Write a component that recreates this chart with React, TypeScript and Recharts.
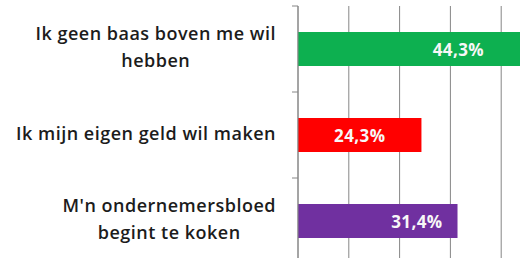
import { BarChart, Bar, XAxis, YAxis, CartesianGrid, Cell, LabelList } from "recharts";

const categories = ["Ik geen baas boven me wil hebben", "Ik mijn eigen geld wil maken", "M'n ondernemersbloed begint te koken"];
const tickLines = [["Ik geen baas boven me wil", "hebben"], ["Ik mijn eigen geld wil maken"], ["M'n ondernemersbloed", "begint te koken"]];
const values = [44.3, 24.3, 31.4];
const xTicks = [0, 10, 20, 30, 40, 50];

const COLORS = ["#0DB050", "#FF0000", "#7030A0"];
// label placement tweak per bar (distance from bar end), matches the original hand-placed labels
const LABEL_INSET = [39, 0, 15];

const data = categories.map((name, i) => ({ name, value: values[i] }));

const FONT = "'Open Sans', sans-serif";

function CategoryTick(props: any) {
  const { x, y, payload, index } = props;
  const half = payload?.offset ?? 43;
  const lines = tickLines[index] ?? [payload.value];
  return (
    <g>
      <line x1={x - 6} x2={x} y1={y - half} y2={y - half} stroke="#868686" />
      <foreignObject x={x - 322} y={y - 42} width={300} height={80}>
        <div style={{ display: "flex", justifyContent: "flex-end", alignItems: "center", height: 80 }}>
          <div style={{ textAlign: "center", fontFamily: FONT, fontWeight: 600, fontSize: 18, letterSpacing: 0.5, lineHeight: "27px", color: "#1c1c1c", whiteSpace: "nowrap" }}>
            {lines.map((l: string) => (
              <div key={l}>{l}</div>
            ))}
          </div>
        </div>
      </foreignObject>
    </g>
  );
}

function ValueLabel(props: any) {
  const { x, y, width, height, value, index } = props;
  const inset = LABEL_INSET[index];
  const text = `${String(value).replace(".", ",")}%`;
  const tx = inset ? x + width - inset : x + width / 2;
  return (
    <text x={tx} y={y + height / 2} textAnchor={inset ? "end" : "middle"} dominantBaseline="central" fill="#f7f7f7" fontFamily={FONT} fontWeight={700} fontSize={17} letterSpacing={0.4}>
      {text}
    </text>
  );
}

export default function App() {
  return (
    <div style={{ position: "absolute", left: 0, top: 0, width: 520, height: 258, overflow: "hidden", background: "#fff" }}>
      <BarChart width={560} height={270} data={data} layout="vertical" margin={{ top: 6, right: 8, bottom: 6, left: 0 }} barCategoryGap={26}>
        <CartesianGrid horizontal={false} vertical stroke="#868686" />
        <XAxis type="number" domain={[0, 50]} ticks={xTicks} hide />
        <YAxis type="category" dataKey="name" width={298} axisLine={{ stroke: "#868686" }} tickLine={false} tickSize={0} tickMargin={0} tick={<CategoryTick />} interval={0} />
        <Bar dataKey="value" barSize={34} isAnimationActive={false}>
          {data.map((_, i) => (
            <Cell key={i} fill={COLORS[i]} />
          ))}
          <LabelList dataKey="value" content={<ValueLabel />} />
        </Bar>
      </BarChart>
    </div>
  );
}
